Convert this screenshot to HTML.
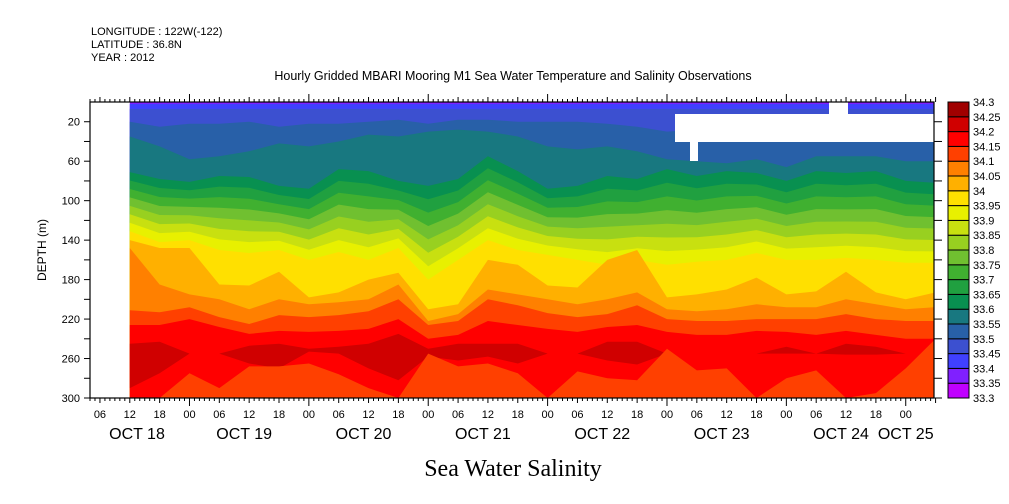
<!DOCTYPE html>
<html><head><meta charset="utf-8">
<style>
html,body{margin:0;padding:0;background:#fff;}
svg{display:block;}
text{font-family:"Liberation Sans",sans-serif;fill:#000;}
</style></head>
<body>
<svg id="chart" width="1009" height="504" viewBox="0 0 1009 504" xmlns="http://www.w3.org/2000/svg">
<text x="91" y="35" font-size="11">LONGITUDE : 122W(-122)</text>
<text x="91" y="48" font-size="11">LATITUDE : 36.8N</text>
<text x="91" y="61" font-size="11">YEAR : 2012</text>
<text x="513" y="80" font-size="12.5" text-anchor="middle">Hourly Gridded MBARI Mooring M1 Sea Water Temperature and Salinity Observations</text>
<text x="513" y="476" font-size="24" text-anchor="middle" style="font-family:'Liberation Serif',serif">Sea Water Salinity</text>
<text transform="translate(46,250) rotate(-90)" font-size="12" text-anchor="middle">DEPTH (m)</text>
<g id="field"></g>
<g id="axes"></g>
<g id="cbar"></g>
</svg>
<script>
// time samples: hours since Oct 18 00:00, every 6h
const times = [12,18,24,30,36,42,48,54,60,66,72,78,84,90,96,102,108,114,120,126,132,138,144,150,156,162,168,174];
// isohaline boundary depths (m) per time sample
const b3350 = [20,25,22,22,20,25,22,22,20,18,22,18,18,20,20,20,22,25,30,28,30,30,30,28,30,35,40,40];
const b3355 = [35,45,58,55,50,42,45,40,33,35,30,28,30,35,45,48,45,50,58,60,62,58,66,55,55,55,60,60];
const b3360 = [71,78,81,75,76,85,88,68,70,80,85,78,55,70,88,85,75,78,68,75,70,72,80,70,72,70,80,82];
const b3395 = [131,142,140,150,153,150,160,152,160,148,180,160,140,150,155,160,165,160,165,162,160,153,160,160,158,160,163,163];
const b3400 = [140,148,148,185,186,172,198,193,180,173,210,205,160,165,186,188,160,150,198,195,190,178,195,192,172,193,200,193];
const b3405 = [148,185,195,200,210,200,205,203,200,185,222,215,190,195,200,205,200,193,210,212,210,205,208,208,200,205,210,208];
const b3410 = [211,213,208,218,225,216,218,216,212,200,226,222,200,206,214,218,215,206,220,222,222,220,220,220,215,220,222,222];
const b3415 = [226,226,220,228,235,232,233,232,230,220,240,236,222,226,230,233,228,226,233,236,236,232,233,236,232,236,240,240];
const darkTop = [245,243,255,255,247,245,250,248,245,235,250,245,245,245,255,255,243,243,255,255,255,255,248,255,245,248,255,255];
const darkBot = [290,275,255,255,265,270,253,255,270,282,258,262,258,265,255,255,262,266,255,255,255,255,255,255,256,256,255,255];
const botFresh = [300,300,275,290,268,268,265,276,290,300,255,268,265,275,300,273,280,282,250,272,270,300,280,272,300,295,270,240];
// colour levels
const levels = [33.3,33.35,33.4,33.45,33.5,33.55,33.6,33.65,33.7,33.75,33.8,33.85,33.9,33.95,34,34.05,34.1,34.15,34.2,34.25,34.3];
const colors = ["#c000ff","#8020ff","#4040ff","#3c50d0","#2860a8","#187880","#089050","#20a040","#40b030","#70c030","#98d020","#c8e010","#e8f000","#ffe000","#ffb000","#ff8000","#ff4000","#ff0000","#d00000","#a00000"];
const xTickLabels = ["06","12","18","00"];
const dayLabels = ["OCT 18","OCT 19","OCT 20","OCT 21","OCT 22","OCT 23","OCT 24","OCT 25"];
const depthTicks = [20,60,100,140,180,220,260,300];

const NS="http://www.w3.org/2000/svg";
const X0=90,X1=934,Y0=102,Y1=398,H0=4,PXH=4.974;
function xs(h){return X0+(h-H0)*PXH;}
function ys(d){return Y0+d*(Y1-Y0)/300;}
function mk(tag,attrs,parent){const e=document.createElementNS(NS,tag);for(const k in attrs)e.setAttribute(k,attrs[k]);parent.appendChild(e);return e;}
const field=document.getElementById('field');
const axes=document.getElementById('axes');
const cbar=document.getElementById('cbar');
const defs=mk('defs',{},field);
const cp=mk('clipPath',{id:'plotclip'},defs);
mk('rect',{x:X0,y:Y0,width:X1-X0,height:Y1-Y0},cp);
const g=mk('g',{'clip-path':'url(#plotclip)'},field);

function layerFromTop(arr,color,name){
  let d='M'+xs(times[0])+','+ys(300);
  for(let i=0;i<times.length;i++) d+=' L'+xs(times[i]).toFixed(1)+','+ys(arr[i]).toFixed(1);
  d+=' L'+xs(times[times.length-1])+','+ys(300)+' Z';
  const p=mk('path',{d:d,fill:color},g);
  
  
}
const base=mk('rect',{x:xs(times[0]),y:ys(0),width:xs(times[times.length-1])-xs(times[0]),height:ys(300)-ys(0),fill:colors[1]},g);


const b3340=times.map(()=>2), b3345=times.map(()=>7);
layerFromTop(b3340,colors[2],'salinity-layer-33.4');
layerFromTop(b3345,colors[3],'salinity-layer-33.45');
layerFromTop(b3350,colors[4],'salinity-layer-33.5');
layerFromTop(b3355,colors[5],'salinity-layer-33.55');
layerFromTop(b3360,colors[6],'salinity-layer-33.6');
for(let k=1;k<=6;k++){
  const arr=b3360.map((v,i)=>v+(b3395[i]-v)*k/7);
  layerFromTop(arr,colors[6+k],'salinity-layer-'+levels[7+k]);
}
layerFromTop(b3395,colors[13],'salinity-layer-33.95');
layerFromTop(b3400,colors[14],'salinity-layer-34');
layerFromTop(b3405,colors[15],'salinity-layer-34.05');
layerFromTop(b3410,colors[16],'salinity-layer-34.1');
layerFromTop(b3415,colors[17],'salinity-layer-34.15');
(function(){
  let d='M'+xs(times[0])+','+ys(darkTop[0]);
  for(let i=1;i<times.length;i++) d+=' L'+xs(times[i]).toFixed(1)+','+ys(darkTop[i]).toFixed(1);
  for(let i=times.length-1;i>=0;i--) d+=' L'+xs(times[i]).toFixed(1)+','+ys(darkBot[i]).toFixed(1);
  d+=' Z';
  const p=mk('path',{d:d,fill:colors[18]},g);
  
  
})();
layerFromTop(botFresh,colors[16],'bottom-fresher-layer');
[[675,114,260,28],[690,142,8,19],[829,102,19,12]].forEach(r=>{
  const m=mk('rect',{x:r[0],y:r[1],width:r[2],height:r[3],fill:'#fff'},g);
  
  
});
const fr=mk('rect',{x:X0,y:Y0,width:X1-X0,height:Y1-Y0,fill:'none',stroke:'#000','stroke-width':1.2},axes);


for(let h=H0;h<=174;h++){
  const x=xs(h);
  const len=(h%24===0)?8:(h%6===0?5:3);
  mk('line',{x1:x,y1:Y0,x2:x,y2:Y0-len,stroke:'#000','stroke-width':1},axes);
  mk('line',{x1:x,y1:Y1,x2:x,y2:Y1+len,stroke:'#000','stroke-width':1},axes);
  if(h%6===0 && h<=168){
    const t=mk('text',{x:x,y:418,'font-size':11,'text-anchor':'middle'},axes);
    t.textContent=xTickLabels[((h/6)%4+3)%4];
    
    
  }
}
dayLabels.forEach((s,i)=>{
  let cx=xs(i*24+12)-5;
  if(i===0) cx=137;
  if(i===dayLabels.length-1) cx=xs(i*24);
  const t=mk('text',{x:cx,y:439,'font-size':16,'text-anchor':'middle'},axes);
  t.textContent=s;
  
  
});
for(let d=20;d<=300;d+=20){
  const y=ys(d);
  mk('line',{x1:X0,y1:y,x2:X0-6,y2:y,stroke:'#000','stroke-width':1},axes);
  mk('line',{x1:X1,y1:y,x2:X1+8,y2:y,stroke:'#000','stroke-width':1},axes);
}
depthTicks.forEach(d=>{
  const t=mk('text',{x:80,y:ys(d)+4,'font-size':11,'text-anchor':'end'},axes);
  t.textContent=d;
  
  
});
const CX=948,CW=21,CY0=102,CY1=398,n=colors.length,ch=(CY1-CY0)/n;
for(let i=0;i<n;i++){
  const y=CY1-(i+1)*ch;
  const r=mk('rect',{x:CX,y:y,width:CW,height:ch,fill:colors[i],stroke:'#000','stroke-width':1},cbar);
  
  
}
levels.forEach((v,i)=>{
  const t=mk('text',{x:973,y:CY1-i*ch+4,'font-size':11},cbar);
  t.textContent=v;
  
  
});
</script>
</body></html>
